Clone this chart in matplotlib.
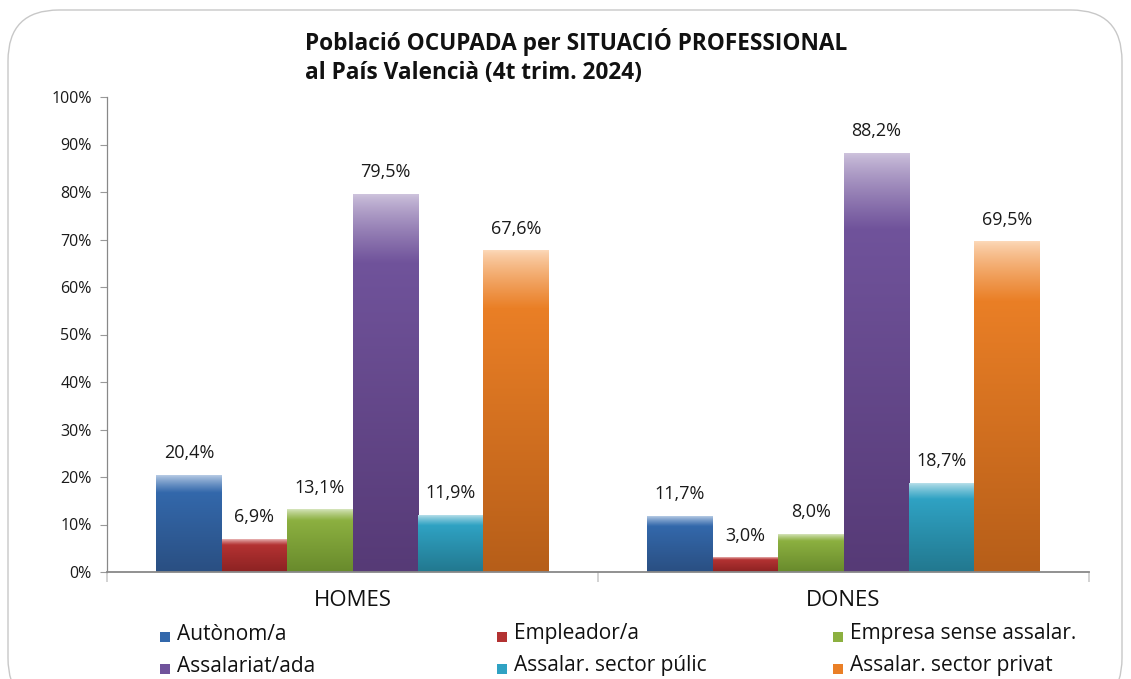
import numpy as np
import matplotlib
matplotlib.use("Agg")
import matplotlib.pyplot as plt
from matplotlib.colors import to_rgb
from matplotlib.patches import FancyBboxPatch, Rectangle

plt.rcParams['font.family'] = ['Open Sans', 'DejaVu Sans']

# ---- data ----
groups = ["HOMES", "DONES"]
series = ["Autònom/a", "Empleador/a", "Empresa sense assalar.",
          "Assalariat/ada", "Assalar. sector púlic", "Assalar. sector privat"]
homes = [20.4, 6.9, 13.1, 79.5, 11.9, 67.6]
dones = [11.7, 3.0, 8.0, 88.2, 18.7, 69.5]
title_lines = ["Població OCUPADA per SITUACIÓ PROFESSIONAL",
               "al País Valencià (4t trim. 2024)"]
yticks = [0, 10, 20, 30, 40, 50, 60, 70, 80, 90, 100]

# colour styles: (light top, main, dark bottom)
styles = [
    ("#b9cde6", "#3368ab", "#2a4f82"),
    ("#eab9b8", "#b33232", "#8c2222"),
    ("#d8e6bf", "#8cb040", "#688a2c"),
    ("#cdc2dc", "#70539b", "#563a76"),
    ("#b9e0ea", "#2fa2c3", "#22788f"),
    ("#fcd8b8", "#ea7f26", "#b65e19"),
]

values = np.array([homes, dones])  # shape (groups, series)

W, H = 1131, 679
fig = plt.figure(figsize=(W / 100, H / 100), dpi=100)

# outer rounded frame (bottom edge runs off the image)
frame = FancyBboxPatch((8 / W, -30 / H), (1114 / W), (679 - 10 + 30) / H,
                       boxstyle="round,pad=0,rounding_size=0.045",
                       transform=fig.transFigure, facecolor="none",
                       edgecolor="#c8c8c8", linewidth=1.0, zorder=-5,
                       mutation_aspect=W / H)
fig.patches.append(frame)

ax = fig.add_axes([107 / W, 1 - 572 / H, (1089 - 107) / W, (572 - 97) / H])
ax.set_facecolor("none")

n = len(series)
group_w = 0.8
bw = group_w / n
x = np.arange(len(groups))


def gradient_column(light, main, dark, npts=256, frac=0.18):
    l, m, d = np.array(to_rgb(light)), np.array(to_rgb(main)), np.array(to_rgb(dark))
    t = np.linspace(0, 1, npts)  # 0 = top, 1 = bottom
    cols = np.zeros((npts, 3))
    for i, tt in enumerate(t):
        if tt < frac:
            s = (tt / frac) ** 0.8
            cols[i] = l * (1 - s) + m * s
        else:
            s = (tt - frac) / (1 - frac)
            cols[i] = m * (1 - s) + d * s
    return cols[:, None, :]


for j, name in enumerate(series):
    xs = x - group_w / 2 + bw * (j + 0.5)
    bars = ax.bar(xs, values[:, j], width=bw, color=styles[j][1], zorder=2,
                  linewidth=0)
    for b, v in zip(bars, values[:, j]):
        b.set_alpha(0)
        img = gradient_column(*styles[j])
        ax.imshow(img, extent=[b.get_x(), b.get_x() + b.get_width(), 0, v],
                  aspect="auto", zorder=2, interpolation="bilinear")
        ax.annotate(f"{v:.1f}%".replace(".", ","),
                    (b.get_x() + b.get_width() / 2, v),
                    xytext=(0, 9.5), textcoords="offset points",
                    ha="center", va="bottom", fontsize=13, color="#1a1a1a")

ax.set_xlim(-0.5, 1.5)
ax.set_ylim(0, 100)

ax.set_yticks(yticks)
ax.set_yticklabels([f"{t}%" for t in yticks], fontsize=11.5, color="#1a1a1a")
ax.set_xticks(x)
ax.set_xticklabels(groups, fontsize=16, color="#111111")
ax.tick_params(axis="x", length=0, pad=13)
ax.tick_params(axis="y", length=5, width=0.8, color="#999999", pad=6)
# category separator ticks
ax.set_xticks([-0.5, 0.5, 1.5], minor=True)
ax.tick_params(axis="x", which="minor", length=7, width=1.2, color="#cccccc")

for s in ["top", "right"]:
    ax.spines[s].set_visible(False)
ax.spines["left"].set_color("#888888")
ax.spines["bottom"].set_color("#888888")
ax.spines["left"].set_linewidth(0.9)
ax.spines["bottom"].set_linewidth(1.3)

# title
fig.text(305 / W, 1 - 42 / H, title_lines[0], fontsize=16.3, fontweight="bold",
         ha="left", va="center", color="#111111")
fig.text(305 / W, 1 - 73 / H, title_lines[1], fontsize=16.3, fontweight="bold",
         ha="left", va="center", color="#111111")

# legend (manual, 2 rows x 3 cols)
col_x = [160, 497, 833]
row_y = [637, 669]
for j, name in enumerate(series):
    r, c = divmod(j, 3)
    px, py = col_x[c], row_y[r]
    sq = Rectangle((px / W, 1 - (py + 5) / H), 10 / W, 10 / H,
                   transform=fig.transFigure,
                   facecolor=styles[j][1], edgecolor="none")
    fig.patches.append(sq)
    fig.text((px + 17) / W, 1 - (py - 3) / H, name, fontsize=15,
             ha="left", va="center", color="#111111")

fig.savefig("out.png", dpi=100)
